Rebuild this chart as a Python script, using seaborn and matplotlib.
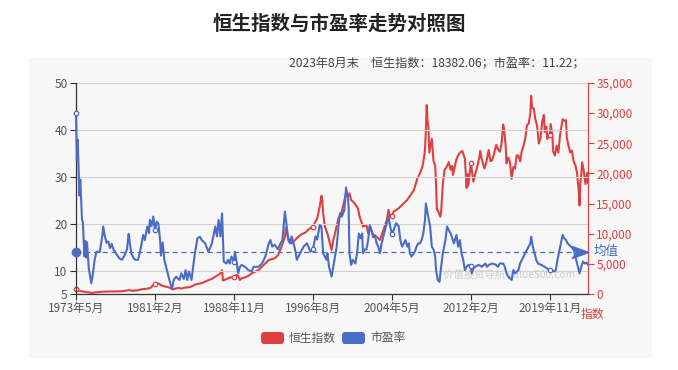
import pandas as pd
import matplotlib
matplotlib.use("Agg")
import matplotlib.pyplot as plt
import matplotlib.transforms as mtransforms
import seaborn as sns
from matplotlib.patches import Rectangle, FancyBboxPatch
from matplotlib.path import Path
from matplotlib.ticker import FuncFormatter

# 市盈率
pe_dates = ['1973-05', '1973-06', '1973-07', '1973-09', '1973-10', '1973-12', '1974-01', '1974-03',
            '1974-04', '1974-05', '1974-06', '1974-08', '1974-11', '1975-01', '1975-03', '1975-05',
            '1975-09', '1975-12', '1976-01', '1976-03', '1976-05', '1976-07', '1976-09', '1976-11',
            '1977-01', '1977-03', '1977-05', '1977-08', '1977-11', '1978-02', '1978-05', '1978-07',
            '1978-08', '1978-10', '1979-01', '1979-03', '1979-06', '1979-08', '1979-10', '1979-12',
            '1980-02', '1980-05', '1980-07', '1980-08', '1980-10', '1980-12', '1981-02', '1981-04',
            '1981-06', '1981-08', '1981-09', '1981-11', '1982-01', '1982-04', '1982-07', '1982-10',
            '1982-12', '1983-03', '1983-05', '1983-07', '1983-09', '1983-12', '1984-02', '1984-04',
            '1984-06', '1984-09', '1984-11', '1985-01', '1985-04', '1985-07', '1985-09', '1986-01',
            '1986-05', '1986-09', '1987-01', '1987-03', '1987-05', '1987-07', '1987-09', '1987-11',
            '1988-02', '1988-04', '1988-06', '1988-08', '1988-11', '1988-12', '1989-02', '1989-04',
            '1989-06', '1989-08', '1989-12', '1990-04', '1990-08', '1990-10', '1990-12', '1991-04',
            '1991-08', '1991-12', '1992-04', '1992-06', '1992-08', '1992-11', '1993-03', '1993-05',
            '1993-08', '1993-11', '1994-01', '1994-03', '1994-05', '1994-07', '1994-11', '1995-01',
            '1995-05', '1995-09', '1996-01', '1996-05', '1996-08', '1996-11', '1997-01', '1997-04',
            '1997-06', '1997-08', '1997-12', '1998-01', '1998-03', '1998-06', '1998-08', '1998-10',
            '1998-12', '1999-02', '1999-04', '1999-06', '1999-09', '1999-11', '2000-01', '2000-02',
            '2000-03', '2000-05', '2000-07', '2000-10', '2000-12', '2001-02', '2001-04', '2001-06',
            '2001-07', '2001-09', '2001-11', '2002-01', '2002-03', '2002-05', '2002-07', '2002-09',
            '2002-11', '2003-01', '2003-03', '2003-05', '2003-07', '2003-11', '2004-01', '2004-03',
            '2004-05', '2004-07', '2004-10', '2005-01', '2005-03', '2005-05', '2005-07', '2005-09',
            '2005-11', '2006-01', '2006-02', '2006-04', '2006-08', '2006-10', '2006-12', '2007-02',
            '2007-04', '2007-06', '2007-08', '2007-09', '2007-11', '2008-02', '2008-04', '2008-06',
            '2008-08', '2008-09', '2008-11', '2009-01', '2009-03', '2009-05', '2009-08', '2009-10',
            '2009-12', '2010-02', '2010-04', '2010-06', '2010-09', '2010-11', '2011-01', '2011-03',
            '2011-05', '2011-07', '2011-09', '2011-11', '2012-02', '2012-03', '2012-05', '2012-07',
            '2012-11', '2013-03', '2013-07', '2013-09', '2013-11', '2014-03', '2014-07', '2014-10',
            '2014-12', '2015-04', '2015-06', '2015-08', '2015-10', '2016-02', '2016-04', '2016-06',
            '2016-10', '2016-12', '2017-02', '2017-06', '2017-10', '2017-12', '2018-01', '2018-03',
            '2018-05', '2018-07', '2018-09', '2019-01', '2019-05', '2019-08', '2019-11', '2020-04',
            '2020-06', '2020-08', '2020-12', '2021-02', '2021-04', '2021-06', '2021-08', '2021-12',
            '2022-03', '2022-06', '2022-10', '2022-12', '2023-02', '2023-04', '2023-06', '2023-08']
pe_values = [43.7, 33.5, 37.9, 26.0, 29.4, 21.0, 20.3, 13.0,
             16.3, 12.8, 16.0, 10.5, 7.3, 9.5, 12.3, 14.0,
             14.0, 17.5, 19.4, 17.3, 15.9, 16.2, 14.8, 15.7,
             14.5, 14.0, 13.4, 12.6, 12.3, 13.2, 14.5, 17.8,
             16.5, 13.7, 12.6, 12.3, 12.3, 13.7, 15.5, 17.6,
             16.5, 19.4, 18.0, 20.8, 19.5, 21.5, 18.6, 20.4,
             20.0, 16.5, 13.2, 16.0, 12.3, 10.1, 8.0, 6.0,
             8.0, 8.7, 8.3, 8.0, 9.4, 8.2, 10.1, 8.0,
             9.8, 8.0, 11.0, 13.7, 16.9, 17.2, 16.5, 15.8,
             14.0, 15.8, 19.4, 17.3, 20.8, 17.3, 22.2, 11.9,
             11.5, 12.3, 11.5, 13.0, 11.9, 14.0, 11.9, 9.4,
             10.8, 11.2, 10.8, 10.1, 9.8, 10.8, 10.8, 10.8,
             11.5, 13.0, 15.8, 16.5, 15.1, 15.5, 14.5, 15.5,
             16.5, 22.6, 19.4, 16.5, 15.8, 17.3, 14.5, 12.3,
             13.7, 15.1, 15.8, 14.0, 14.5, 17.3, 16.6, 19.7,
             19.4, 13.7, 12.3, 13.7, 10.8, 8.7, 10.8, 13.0,
             15.1, 19.4, 22.2, 21.5, 22.9, 27.7, 25.8, 23.6,
             13.7, 11.2, 12.3, 11.5, 13.7, 17.9, 16.9, 17.9,
             13.7, 14.5, 14.5, 16.5, 19.7, 18.6, 17.1, 17.5,
             15.8, 15.1, 13.7, 15.8, 17.3, 20.1, 21.5, 19.4,
             17.9, 18.6, 20.1, 19.4, 16.5, 15.1, 15.8, 16.5,
             15.1, 15.8, 13.7, 13.0, 14.0, 15.1, 15.8, 15.8,
             16.5, 17.9, 20.8, 24.3, 22.2, 19.4, 15.1, 14.5,
             13.0, 10.1, 8.0, 7.6, 10.8, 13.7, 16.5, 19.4,
             18.6, 18.0, 16.9, 15.8, 17.6, 15.1, 16.5, 13.7,
             12.3, 10.1, 10.8, 11.2, 11.0, 9.4, 10.4, 10.8,
             11.2, 10.8, 11.5, 10.8, 11.2, 11.5, 11.3, 10.8,
             11.5, 11.5, 10.8, 9.4, 8.7, 8.0, 10.1, 9.4,
             10.1, 11.5, 12.3, 13.7, 15.1, 15.8, 17.2, 15.1,
             13.7, 12.3, 11.5, 11.2, 10.8, 10.4, 10.1, 9.8,
             10.1, 12.3, 15.8, 17.6, 16.9, 16.5, 15.8, 15.1,
             14.5, 12.3, 9.4, 10.8, 11.9, 11.5, 11.7, 11.22]
pe_mean = 14.0

# 恒生指数
hsi_dates = ['1973-05', '1973-08', '1973-11', '1974-01', '1974-05', '1974-09', '1974-12', '1975-02',
             '1975-05', '1975-09', '1976-01', '1976-05', '1976-11', '1977-05', '1977-11', '1978-05',
             '1978-08', '1978-11', '1979-05', '1979-11', '1980-05', '1980-09', '1980-12', '1981-02',
             '1981-04', '1981-07', '1981-09', '1982-01', '1982-05', '1982-09', '1982-11', '1983-02',
             '1983-06', '1983-09', '1984-01', '1984-05', '1984-09', '1985-01', '1985-05', '1985-09',
             '1986-01', '1986-05', '1986-09', '1987-01', '1987-05', '1987-07', '1987-09', '1987-10',
             '1988-01', '1988-04', '1988-07', '1988-11', '1989-02', '1989-04', '1989-06', '1989-08',
             '1989-12', '1990-04', '1990-08', '1990-12', '1991-04', '1991-08', '1991-12', '1992-04',
             '1992-08', '1992-11', '1993-03', '1993-07', '1993-11', '1993-12', '1994-03', '1994-07',
             '1994-11', '1995-03', '1995-07', '1995-11', '1996-03', '1996-08', '1996-11', '1997-01',
             '1997-04', '1997-06', '1997-07', '1997-08', '1997-10', '1998-01', '1998-03', '1998-06',
             '1998-08', '1998-10', '1999-02', '1999-06', '1999-11', '2000-01', '2000-03', '2000-05',
             '2000-09', '2001-01', '2001-03', '2001-07', '2001-11', '2002-01', '2002-03', '2002-07',
             '2002-11', '2003-03', '2003-07', '2003-11', '2004-01', '2004-03', '2004-05', '2004-07',
             '2005-01', '2005-03', '2005-07', '2005-11', '2006-03', '2006-07', '2006-11', '2007-02',
             '2007-05', '2007-07', '2007-08', '2007-09', '2007-10', '2007-11', '2007-12', '2008-01',
             '2008-04', '2008-06', '2008-08', '2008-09', '2008-10', '2008-11', '2009-02', '2009-03',
             '2009-05', '2009-07', '2009-09', '2009-12', '2010-02', '2010-04', '2010-05', '2010-07',
             '2010-09', '2010-11', '2011-01', '2011-04', '2011-07', '2011-09', '2011-10', '2011-11',
             '2012-02', '2012-05', '2012-07', '2012-09', '2012-12', '2013-01', '2013-03', '2013-06',
             '2013-08', '2013-10', '2013-11', '2014-01', '2014-03', '2014-05', '2014-08', '2014-10',
             '2014-12', '2015-02', '2015-04', '2015-05', '2015-07', '2015-08', '2015-10', '2015-12',
             '2016-02', '2016-04', '2016-06', '2016-08', '2016-10', '2016-12', '2017-02', '2017-04',
             '2017-06', '2017-08', '2017-10', '2017-12', '2018-01', '2018-02', '2018-04', '2018-06',
             '2018-08', '2018-10', '2018-12', '2019-02', '2019-04', '2019-05', '2019-07', '2019-08',
             '2019-11', '2019-12', '2020-02', '2020-03', '2020-05', '2020-07', '2020-09', '2020-11',
             '2020-12', '2021-02', '2021-04', '2021-06', '2021-07', '2021-09', '2021-11', '2022-01',
             '2022-03', '2022-05', '2022-07', '2022-09', '2022-10', '2022-11', '2022-12', '2023-01',
             '2023-03', '2023-05', '2023-07', '2023-08']
hsi_values = [800, 600, 450, 430, 300, 250, 170, 220,
              300, 330, 390, 400, 430, 420, 450, 580,
              650, 530, 600, 800, 880, 1050, 1500, 1650,
              1750, 1700, 1450, 1280, 1150, 950, 780, 900,
              1000, 900, 1050, 1100, 1250, 1550, 1700, 1800,
              2050, 2300, 2500, 2880, 3200, 3430, 3950, 2250,
              2400, 2600, 2750, 2880, 3150, 3000, 2320, 2600,
              2750, 3000, 3430, 3700, 3980, 4530, 5090, 5640,
              5800, 5920, 6470, 7850, 9510, 11000, 9240, 8400,
              8960, 9510, 9950, 10180, 10730, 11170, 12000, 12550,
              14490, 16300, 15600, 13400, 11200, 10060, 9000, 7300,
              8960, 10060, 12550, 13660, 16700, 16150, 16700, 15600,
              15040, 14210, 12830, 11170, 11450, 10060, 11170, 9790,
              9510, 8960, 10620, 12270, 13940, 12830, 13000, 13660,
              14210, 14490, 15040, 15600, 16420, 17250, 19190, 20020,
              21120, 22780, 24000, 27100, 31350, 28640, 27810, 23460,
              25750, 22100, 21260, 18020, 13970, 13890, 12810, 13580,
              18170, 20570, 20960, 21870, 20600, 21240, 19770, 21030,
              22360, 23000, 23450, 23720, 22440, 17592, 19864, 17989,
              21680, 18630, 19796, 20840, 22657, 23730, 22300, 20803,
              21731, 23206, 23881, 22035, 22151, 23081, 24742, 23998,
              23605, 24823, 28133, 27424, 24636, 21670, 22640, 21914,
              19112, 21067, 20794, 23023, 22935, 22000, 23741, 24615,
              25765, 27970, 28246, 29919, 32887, 30845, 30808, 28955,
              27889, 24980, 25846, 28633, 29699, 26901, 27778, 25725,
              26346, 28190, 26130, 23603, 22961, 24595, 23459, 26341,
              27231, 28980, 28725, 28828, 25961, 24576, 23475, 23802,
              21997, 21415, 20157, 17223, 14687, 18597, 19781, 21842,
              20400, 18234, 20079, 18382.06]

tick_dates = ['1973-05', '1981-02', '1988-11', '1996-08', '2004-05', '2012-02', '2019-11']
tick_labels = ['1973年5月', '1981年2月', '1988年11月', '1996年8月', '2004年5月', '2012年2月', '2019年11月']
pe_ticks = [5, 10, 20, 30, 40, 50]
hsi_ticks = [0, 5000, 10000, 15000, 20000, 25000, 30000, 35000]

red = '#e03f3f'
blue = '#4a6bc6'

sns.set_theme(style='white')
plt.rcParams['font.family'] = ['Noto Sans CJK SC', 'DejaVu Sans']

pe = pd.DataFrame({'date': pd.to_datetime(pe_dates), 'pe': pe_values})
hsi = pd.DataFrame({'date': pd.to_datetime(hsi_dates), 'hsi': hsi_values})
ticks = pd.to_datetime(tick_dates)

fig = plt.figure(figsize=(6.78, 3.70), dpi=100)
fig.patches.append(Rectangle((0.043, 0.032), 0.919, 0.811, transform=fig.transFigure,
                             facecolor='#f7f7f7', edgecolor='none', zorder=-1))

ax_pe = fig.add_axes([0.1121, 0.2054, 0.7552, 0.5703])
ax_hsi = ax_pe.twinx()
ax_pe.set_zorder(ax_hsi.get_zorder() + 1)
ax_pe.patch.set_visible(False)
ax_hsi.patch.set_visible(False)

sns.lineplot(data=hsi, x='date', y='hsi', ax=ax_hsi, color=red, linewidth=1.5, zorder=3, clip_on=False)
sns.lineplot(data=pe, x='date', y='pe', ax=ax_pe, color=blue, linewidth=1.5, zorder=3, clip_on=False)

# hollow markers on the labelled months
m_hsi = hsi[hsi['date'].isin(ticks)]
m_pe = pe[pe['date'].isin(ticks)]
ax_hsi.plot(m_hsi['date'], m_hsi['hsi'], 'o', ms=3.2, mfc='white', mec=red, mew=0.9,
            clip_on=False, zorder=4)
ax_pe.plot(m_pe['date'], m_pe['pe'], 'o', ms=3.2, mfc='white', mec=blue, mew=0.9,
           clip_on=False, zorder=4)

# average line
x0, x1 = pe['date'].iloc[0], pe['date'].iloc[-1]
ax_pe.axhline(pe_mean, color=blue, lw=0.9, ls=(0, (4, 3)))
ax_pe.plot([x0], [pe_mean], 'o', ms=6, color=blue, clip_on=False, zorder=5)
arrow = Path([(0.5, 0), (-0.5, 0.36), (-0.22, 0), (-0.5, -0.36), (0.5, 0)],
             [Path.MOVETO, Path.LINETO, Path.LINETO, Path.LINETO, Path.CLOSEPOLY])
shift = mtransforms.offset_copy(ax_pe.transData, fig=fig, x=-5.5, units='points')
ax_pe.plot([x1], [pe_mean], marker=arrow, ms=12, color=blue, transform=shift, clip_on=False, zorder=5)
ax_pe.annotate('均值', xy=(x1, pe_mean), xytext=(4, 0), textcoords='offset points',
               va='center', ha='left', color=blue, fontsize=9, annotation_clip=False)

ax_pe.set_xlim(x0, x1)
ax_pe.set_ylim(5, 50)
ax_hsi.set_ylim(0, 35000)
ax_pe.set_xticks(ticks)
ax_pe.set_xticklabels(tick_labels)
ax_pe.set_yticks(pe_ticks)
ax_hsi.set_yticks(hsi_ticks)
ax_hsi.yaxis.set_major_formatter(FuncFormatter(lambda v, p: f'{int(v):,}'))
ax_pe.set_xlabel('')
ax_pe.set_ylabel('')
ax_hsi.set_ylabel('')

ax_pe.yaxis.grid(True, color='#d2d2d2', lw=0.8)
ax_pe.xaxis.grid(False)
ax_hsi.grid(False)

for s in ['top', 'right']:
    ax_pe.spines[s].set_visible(False)
for s in ['top', 'left', 'bottom']:
    ax_hsi.spines[s].set_visible(False)
ax_pe.spines['left'].set_color('#333333')
ax_pe.spines['bottom'].set_color('#333333')
ax_hsi.spines['right'].set_color(red)
for s in [ax_pe.spines['left'], ax_pe.spines['bottom'], ax_hsi.spines['right']]:
    s.set_linewidth(0.9)

ax_pe.tick_params(axis='x', bottom=True, direction='out', length=4, width=0.8, color='#333333',
                  labelsize=8.5, labelcolor='#555555', pad=2)
ax_pe.tick_params(axis='y', left=True, direction='out', length=4, width=0.8, color='#333333',
                  labelsize=8.5, labelcolor='#555555', pad=2)
ax_hsi.tick_params(axis='y', right=True, direction='out', length=4, width=0.8, color=red,
                   labelsize=8.5, labelcolor=red, pad=2)

# watermark
ax_hsi.text(0.717, 0.09, '价值投资导航 value500.com', transform=ax_hsi.transAxes,
            color='#cdcdcd', fontsize=7.5, va='center', ha='left', zorder=0.5)

fig.text(0.5, 0.935, '恒生指数与市盈率走势对照图', ha='center', va='center',
         fontsize=14, fontweight='bold', color='#222222')
fig.text(0.862, 0.827, '2023年8月末　恒生指数：18382.06；市盈率：11.22；', ha='right', va='center',
         fontsize=8.7, color='#444444')
fig.text(0.856, 0.150, '指数', ha='left', va='center', fontsize=8.5, color=red)

# legend
for (x, label, c) in [(261, '恒生指数', red), (342, '市盈率', blue)]:
    fig.patches.append(FancyBboxPatch((x / 678, 26 / 370), 23 / 678, 12 / 370,
                                      boxstyle='round,pad=0,rounding_size=0.005', mutation_aspect=678 / 370,
                                      transform=fig.transFigure, facecolor=c, edgecolor='none'))
    fig.text((x + 28) / 678, 32 / 370, label, ha='left', va='center', fontsize=8.5, color='#555555')

fig.savefig('out.png', dpi=100)
